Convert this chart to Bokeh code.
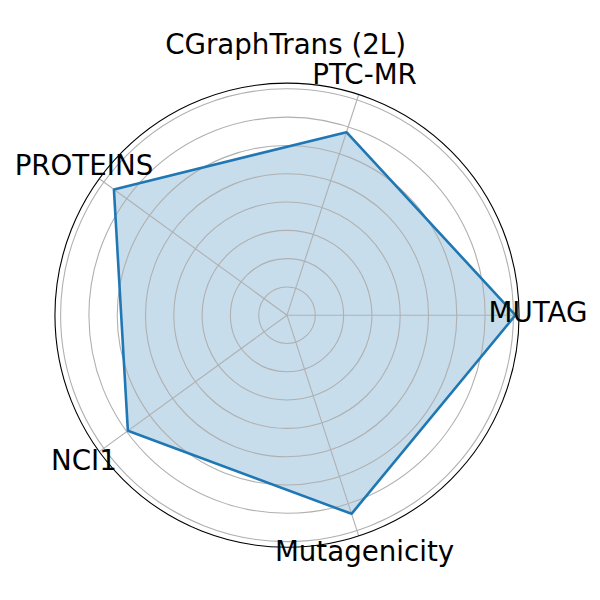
import numpy as np
from bokeh.plotting import figure
from bokeh.models import ColumnDataSource, Label
from bokeh.core.properties import value
from bokeh.embed import file_html
from bokeh.resources import INLINE

# ---- data ----
title_text = "CGraphTrans (2L)"
categories = ["MUTAG", "PTC-MR", "PROTEINS", "NCI1", "Mutagenicity"]
values = [8.07, 6.80, 7.56, 6.95, 7.38]
ring_levels = [1, 2, 3, 4, 5, 6, 7, 8]
r_max = 8.2

# ---- layout ----
px_per_unit = 28.3
cx_img, cy_img = 286.5, 314.7
W = H = 592
x0 = (0 - cx_img) / px_per_unit
x1 = (W - cx_img) / px_per_unit
y1 = (cy_img - 0) / px_per_unit
y0 = (cy_img - H) / px_per_unit

p = figure(width=W, height=H, x_range=(x0, x1), y_range=(y0, y1),
           output_backend="svg", toolbar_location=None, min_border=0)
p.axis.visible = False
p.grid.visible = False
p.outline_line_color = None
p.background_fill_color = "white"
p.border_fill_color = "white"

n = len(categories)
angles = np.arange(n) * 2 * np.pi / n

# fill
vals = np.array(values)
px = vals * np.cos(angles)
py = vals * np.sin(angles)
p.patch(list(px), list(py), fill_color="#1f77b4", fill_alpha=0.25, line_color=None)

# grid rings
p.circle(x=[0] * len(ring_levels), y=[0] * len(ring_levels), radius=ring_levels,
         fill_color=None, line_color="#b0b0b0", line_width=1.1)
# spokes
p.multi_line([[0, r_max * np.cos(a)] for a in angles],
             [[0, r_max * np.sin(a)] for a in angles],
             line_color="#b0b0b0", line_width=1.1)
# outer spine
p.circle(x=[0], y=[0], radius=[r_max], fill_color=None, line_color="black", line_width=1.1)

# outline
p.line(list(px) + [px[0]], list(py) + [py[0]], line_color="#1f77b4", line_width=2.6)

# category labels
lab_r = 8.87
src = ColumnDataSource(dict(x=lab_r * np.cos(angles), y=lab_r * np.sin(angles) + 0.08, t=categories))
p.text(x="x", y="y", text="t", source=src, text_align="center", text_baseline="middle",
       text_font=value("DejaVu Sans"), text_font_size="27.7px", text_color="black")

# title
p.add_layout(Label(x=-0.05, y=9.55, text=title_text, text_align="center", text_baseline="middle",
                   text_font="DejaVu Sans", text_font_size="27.7px", text_color="black"))

open("out.html", "w").write(file_html(p, INLINE))
